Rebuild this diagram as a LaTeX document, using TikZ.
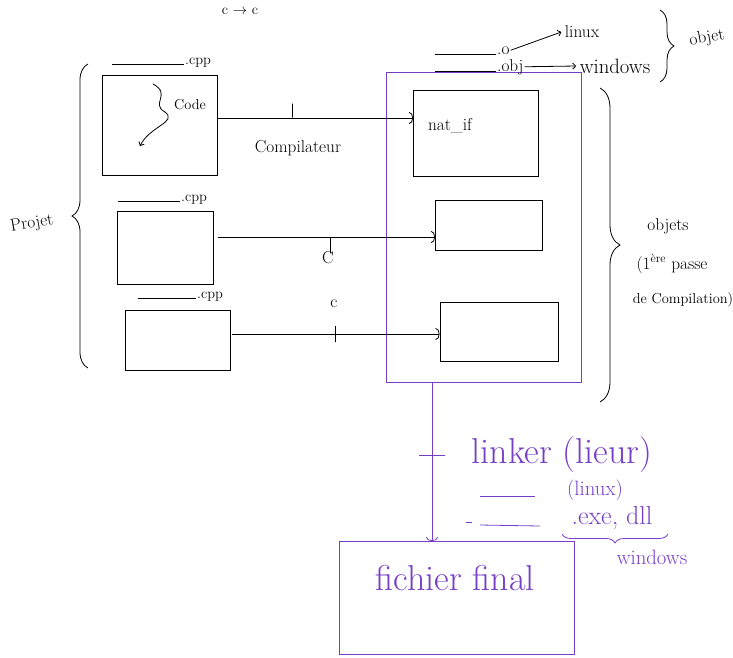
\documentclass[tikz,border=0pt]{standalone}
\usepackage{fontspec}
\usetikzlibrary{arrows.meta,decorations.pathreplacing}
\definecolor{pviolet}{RGB}{118,62,200}

\begin{document}
\begin{tikzpicture}[
  x=1pt, y=-1pt,
  box/.style={draw, thick, inner sep=0pt},
  conn/.style={thick, -{Arc Barb[length=4pt, width=12pt]}},
  small/.style={thick, -{Straight Barb[length=3pt, width=6pt]}},
  tick/.style={draw, thick, inner sep=0pt, minimum size=0pt},
  brc/.style={thick, decorate, decoration={brace, amplitude=#1}},
  hand/.style={font=\LARGE},
  ext/.style={font=\Large, anchor=base west, inner sep=1pt},
  lnk/.style={draw=pviolet, thick},
  ltxt/.style={text=pviolet, font=\fontsize{36}{40}\selectfont}
]
  \useasboundingbox (0,0) rectangle (733,657);

  % top
  \node[font=\Large, anchor=north, inner sep=1pt] (top) at (240,7) {c $\to$ c};

  % sources
  \node[box, minimum width=115pt, minimum height=100pt] (src1) at (160,125) {};
  \node[box, minimum width=96pt, minimum height=73pt] (src2) at (165,248) {};
  \node[box, minimum width=105pt, minimum height=60pt] (src3) at (178,340) {};
  \coordinate (u1) at (112,64);
  \coordinate (u2) at (118,201);
  \coordinate (u3) at (138,298);
  \node[ext] (cpp1) at (184,64) {.cpp};
  \node[ext] (cpp2) at (180,201) {.cpp};
  \node[ext] (cpp3) at (196,298) {.cpp};
  \draw[thick] (u1) -- (cpp1.base west);
  \draw[thick] (u2) -- (cpp2.base west);
  \draw[thick] (u3) -- (cpp3.base west);
  \node[font=\Large] (code) at (190,105) {Code};
  \coordinate (sq) at (153,84);
  \draw[small] (sq) .. controls (172,94) and (150,104) .. (165,112)
    .. controls (178,122) and (150,126) .. (140,146);

  \draw[brc=16pt] (88,368) -- (88,64);
  \node[hand, rotate=10] (proj) at (32,224) {Projet};

  % objets
  \node[lnk, minimum width=195pt, minimum height=310pt] (objs) at (484,227) {};
  \node[box, minimum width=125pt, minimum height=86pt] (obj1) at (476,133) {};
  \node[box, minimum width=107pt, minimum height=50pt] (obj2) at (489,225) {};
  \node[box, minimum width=118pt, minimum height=59pt] (obj3) at (499,332) {};
  \node[hand] (natif) at (450,126) {nat\_if};

  \coordinate (a1) at (218,118);
  \coordinate (a2) at (218,237);
  \coordinate (a3) at (232,334);
  \draw[conn] (a1) -- node[pos=0.38, tick, minimum height=14pt, anchor=south] {} (a1 -| obj1.west);
  \draw[conn] (a2) -- node[pos=0.52, tick, minimum height=16pt, anchor=north] {} (a2 -| obj2.west);
  \draw[conn] (a3) -- node[pos=0.5, tick, minimum height=16pt] {} (a3 -| obj3.west);
  \node[hand] (comp) at (298,148) {Compilateur};
  \node[hand] (c2) at (328,258) {C};
  \node[hand] (c3) at (334,304) {c};

  \draw[brc=20pt] (600,88) -- (600,402);
  \node[hand] (ob1) at (668,226) {objets};
  \node[hand] (ob2) at (672,264) {(1\textsuperscript{ère} passe};
  \node[font=\Large] (ob3) at (683,300) {de Compilation)};

  % extensions
  \coordinate (u4) at (435,54);
  \coordinate (u5) at (435,71);
  \node[ext, font=\LARGE] (dot o) at (496,54) {.o};
  \node[ext, font=\LARGE] (dot obj) at (496,71) {.obj};
  \node[hand] (linux) at (582,32) {linux};
  \node[font=\huge] (win) at (615,66) {windows};
  \draw[thick] (u4) -- (dot o.base west);
  \draw[thick] (u5) -- (dot obj.base west);
  \draw[small] (dot o.east) -- (linux.west);
  \draw[small] (dot obj.east) -- (win.west);
  \draw[brc=14pt] (660,10) -- (660,82);
  \node[hand, rotate=10] (objet) at (707,38) {objet};

  % linker
  \node[lnk, minimum width=235pt, minimum height=113pt] (fin) at (457,598) {};
  \node[ltxt] (fintxt) at (455,578) {fichier final};
  \coordinate (l0) at (432,382);
  \draw[lnk, conn] (l0) -- node[pos=0.46, lnk, tick, minimum width=26pt] {} (l0 |- fin.north);
  \node[ltxt] (lk) at (562,455) {linker (lieur)};
  \node[ltxt, font=\huge] (lx) at (595,490) {(linux)};
  \node[ltxt, font=\fontsize{26}{30}\selectfont] (exe) at (612,518) {.exe, dll};
  \node[ltxt, font=\huge] (wn) at (652,557) {windows};
  \coordinate (u6) at (480,496);
  \coordinate (u7) at (535,496);
  \coordinate (u8) at (466,522);
  \coordinate (u9) at (480,525);
  \coordinate (u10) at (540,526);
  \draw[lnk] (u6) -- (u7);
  \draw[lnk] (u8) -- ++(6,0);
  \draw[lnk] (u9) -- (u10);
  \draw[lnk, brc=9pt] (668,534) -- (562,534);
\end{tikzpicture}
\end{document}
